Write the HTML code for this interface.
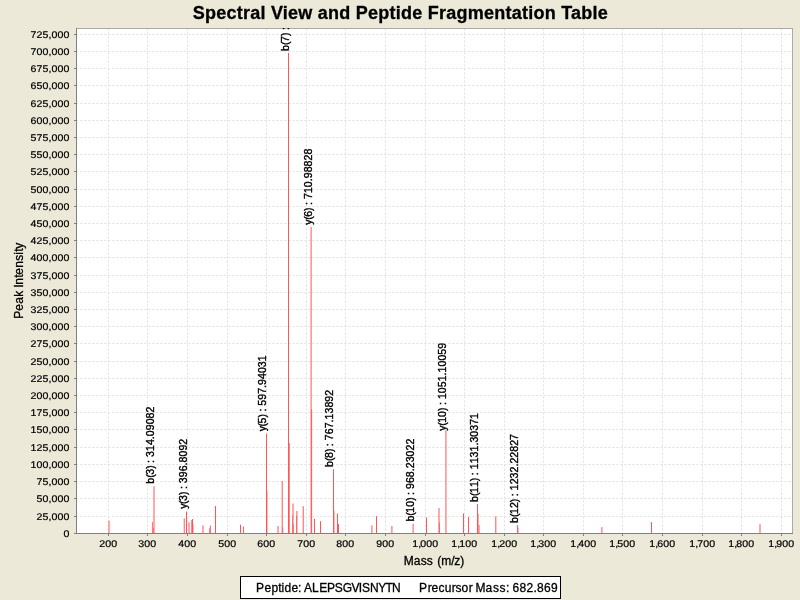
<!DOCTYPE html><html><head><meta charset="utf-8"><title>Spectral View and Peptide Fragmentation Table</title>
<style>html,body{margin:0;padding:0;background:#ECE9D8;overflow:hidden}svg{display:block}text{font-family:"Liberation Sans",sans-serif;fill:#000;stroke:#000}svg{stroke-width:0.3px}</style></head><body>
<svg width="800" height="600" viewBox="0 0 800 600">
<rect width="800" height="600" fill="#ECE9D8"/>
<rect x="76" y="28" width="717" height="506" fill="#fff"/>
<g stroke="#e0e0e0" stroke-width="1" stroke-dasharray="2 2">
<line x1="108.5" y1="28.5" x2="108.5" y2="533"/>
<line x1="147.5" y1="28.5" x2="147.5" y2="533"/>
<line x1="187.5" y1="28.5" x2="187.5" y2="533"/>
<line x1="227.5" y1="28.5" x2="227.5" y2="533"/>
<line x1="266.5" y1="28.5" x2="266.5" y2="533"/>
<line x1="306.5" y1="28.5" x2="306.5" y2="533"/>
<line x1="345.5" y1="28.5" x2="345.5" y2="533"/>
<line x1="385.5" y1="28.5" x2="385.5" y2="533"/>
<line x1="425.5" y1="28.5" x2="425.5" y2="533"/>
<line x1="464.5" y1="28.5" x2="464.5" y2="533"/>
<line x1="504.5" y1="28.5" x2="504.5" y2="533"/>
<line x1="543.5" y1="28.5" x2="543.5" y2="533"/>
<line x1="583.5" y1="28.5" x2="583.5" y2="533"/>
<line x1="622.5" y1="28.5" x2="622.5" y2="533"/>
<line x1="662.5" y1="28.5" x2="662.5" y2="533"/>
<line x1="702.5" y1="28.5" x2="702.5" y2="533"/>
<line x1="741.5" y1="28.5" x2="741.5" y2="533"/>
<line x1="781.5" y1="28.5" x2="781.5" y2="533"/>
<line x1="76.4" y1="516.5" x2="792" y2="516.5"/>
<line x1="76.4" y1="498.5" x2="792" y2="498.5"/>
<line x1="76.4" y1="481.5" x2="792" y2="481.5"/>
<line x1="76.4" y1="464.5" x2="792" y2="464.5"/>
<line x1="76.4" y1="447.5" x2="792" y2="447.5"/>
<line x1="76.4" y1="429.5" x2="792" y2="429.5"/>
<line x1="76.4" y1="412.5" x2="792" y2="412.5"/>
<line x1="76.4" y1="395.5" x2="792" y2="395.5"/>
<line x1="76.4" y1="378.5" x2="792" y2="378.5"/>
<line x1="76.4" y1="361.5" x2="792" y2="361.5"/>
<line x1="76.4" y1="343.5" x2="792" y2="343.5"/>
<line x1="76.4" y1="326.5" x2="792" y2="326.5"/>
<line x1="76.4" y1="309.5" x2="792" y2="309.5"/>
<line x1="76.4" y1="292.5" x2="792" y2="292.5"/>
<line x1="76.4" y1="275.5" x2="792" y2="275.5"/>
<line x1="76.4" y1="257.5" x2="792" y2="257.5"/>
<line x1="76.4" y1="240.5" x2="792" y2="240.5"/>
<line x1="76.4" y1="223.5" x2="792" y2="223.5"/>
<line x1="76.4" y1="206.5" x2="792" y2="206.5"/>
<line x1="76.4" y1="189.5" x2="792" y2="189.5"/>
<line x1="76.4" y1="171.5" x2="792" y2="171.5"/>
<line x1="76.4" y1="154.5" x2="792" y2="154.5"/>
<line x1="76.4" y1="137.5" x2="792" y2="137.5"/>
<line x1="76.4" y1="120.5" x2="792" y2="120.5"/>
<line x1="76.4" y1="103.5" x2="792" y2="103.5"/>
<line x1="76.4" y1="85.5" x2="792" y2="85.5"/>
<line x1="76.4" y1="68.5" x2="792" y2="68.5"/>
<line x1="76.4" y1="51.5" x2="792" y2="51.5"/>
<line x1="76.4" y1="34.5" x2="792" y2="34.5"/>
</g>
<g fill="#FF5555">
<rect x="108.50" y="520.60" width="1.00" height="12.90"/>
<rect x="152.10" y="521.90" width="0.80" height="11.60"/>
<rect x="153.00" y="528.00" width="0.60" height="5.50"/>
<rect x="153.50" y="486.25" width="1.00" height="47.25"/>
<rect x="183.75" y="518.25" width="0.95" height="15.25"/>
<rect x="186.00" y="511.50" width="1.00" height="22.00"/>
<rect x="188.50" y="522.25" width="1.00" height="11.25"/>
<rect x="191.30" y="520.00" width="0.70" height="13.50"/>
<rect x="192.00" y="519.00" width="1.00" height="14.50"/>
<rect x="193.00" y="524.25" width="0.40" height="9.25"/>
<rect x="202.50" y="525.25" width="1.00" height="8.25"/>
<rect x="209.20" y="528.25" width="0.70" height="5.25"/>
<rect x="209.90" y="525.50" width="0.90" height="8.00"/>
<rect x="215.00" y="506.00" width="1.00" height="27.50"/>
<rect x="240.00" y="524.75" width="1.00" height="8.75"/>
<rect x="243.05" y="526.50" width="0.90" height="7.00"/>
<rect x="266.00" y="433.75" width="1.00" height="99.75"/>
<rect x="267.00" y="491.25" width="0.40" height="42.25"/>
<rect x="277.50" y="526.00" width="1.00" height="7.50"/>
<rect x="281.70" y="481.00" width="1.00" height="52.50"/>
<rect x="282.40" y="527.50" width="0.80" height="6.00"/>
<rect x="288.00" y="52.75" width="1.00" height="480.75"/>
<rect x="289.00" y="443.10" width="0.70" height="90.40"/>
<rect x="292.50" y="503.50" width="1.00" height="30.00"/>
<rect x="292.00" y="515.00" width="0.60" height="18.50"/>
<rect x="292.80" y="524.50" width="0.80" height="9.00"/>
<rect x="296.40" y="511.00" width="1.00" height="22.50"/>
<rect x="296.00" y="516.00" width="0.70" height="17.50"/>
<rect x="302.70" y="506.20" width="1.00" height="27.30"/>
<rect x="310.60" y="226.90" width="1.00" height="306.60"/>
<rect x="311.20" y="409.50" width="0.90" height="124.00"/>
<rect x="314.00" y="518.80" width="1.00" height="14.70"/>
<rect x="320.00" y="521.20" width="1.00" height="12.30"/>
<rect x="333.00" y="469.30" width="1.00" height="64.20"/>
<rect x="334.00" y="510.70" width="0.40" height="22.80"/>
<rect x="337.00" y="513.60" width="1.00" height="19.90"/>
<rect x="338.00" y="524.10" width="1.00" height="9.40"/>
<rect x="371.40" y="525.40" width="1.00" height="8.10"/>
<rect x="376.00" y="516.25" width="1.00" height="17.25"/>
<rect x="391.40" y="525.90" width="1.00" height="7.60"/>
<rect x="412.60" y="523.75" width="1.00" height="9.75"/>
<rect x="426.00" y="517.50" width="1.00" height="16.00"/>
<rect x="438.50" y="508.00" width="1.00" height="25.50"/>
<rect x="439.00" y="522.50" width="0.80" height="11.00"/>
<rect x="445.45" y="430.00" width="1.00" height="103.50"/>
<rect x="463.00" y="513.40" width="1.00" height="20.10"/>
<rect x="468.00" y="516.90" width="1.00" height="16.60"/>
<rect x="477.00" y="504.10" width="1.00" height="29.40"/>
<rect x="478.00" y="513.75" width="0.50" height="19.75"/>
<rect x="478.60" y="525.00" width="0.90" height="8.50"/>
<rect x="495.30" y="516.25" width="1.00" height="17.25"/>
<rect x="517.10" y="525.00" width="1.00" height="8.50"/>
<rect x="518.10" y="528.00" width="0.40" height="5.50"/>
<rect x="601.40" y="527.10" width="1.00" height="6.40"/>
<rect x="651.00" y="522.10" width="1.00" height="11.40"/>
<rect x="759.50" y="524.10" width="1.00" height="9.40"/>
</g>
<g shape-rendering="crispEdges">
<rect x="76" y="28" width="717" height="1" fill="#aaaaaa"/>
<rect x="792" y="28" width="1" height="506" fill="#aaaaaa"/>
<rect x="76" y="28" width="1" height="506" fill="#808080"/>
<rect x="76" y="533" width="717" height="1" fill="#808080"/>
<rect x="108" y="534" width="1" height="2" fill="#808080"/>
<rect x="147" y="534" width="1" height="2" fill="#808080"/>
<rect x="187" y="534" width="1" height="2" fill="#808080"/>
<rect x="227" y="534" width="1" height="2" fill="#808080"/>
<rect x="266" y="534" width="1" height="2" fill="#808080"/>
<rect x="306" y="534" width="1" height="2" fill="#808080"/>
<rect x="345" y="534" width="1" height="2" fill="#808080"/>
<rect x="385" y="534" width="1" height="2" fill="#808080"/>
<rect x="425" y="534" width="1" height="2" fill="#808080"/>
<rect x="464" y="534" width="1" height="2" fill="#808080"/>
<rect x="504" y="534" width="1" height="2" fill="#808080"/>
<rect x="543" y="534" width="1" height="2" fill="#808080"/>
<rect x="583" y="534" width="1" height="2" fill="#808080"/>
<rect x="622" y="534" width="1" height="2" fill="#808080"/>
<rect x="662" y="534" width="1" height="2" fill="#808080"/>
<rect x="702" y="534" width="1" height="2" fill="#808080"/>
<rect x="741" y="534" width="1" height="2" fill="#808080"/>
<rect x="781" y="534" width="1" height="2" fill="#808080"/>
<rect x="74" y="533" width="2" height="1" fill="#808080"/>
<rect x="74" y="516" width="2" height="1" fill="#808080"/>
<rect x="74" y="498" width="2" height="1" fill="#808080"/>
<rect x="74" y="481" width="2" height="1" fill="#808080"/>
<rect x="74" y="464" width="2" height="1" fill="#808080"/>
<rect x="74" y="447" width="2" height="1" fill="#808080"/>
<rect x="74" y="429" width="2" height="1" fill="#808080"/>
<rect x="74" y="412" width="2" height="1" fill="#808080"/>
<rect x="74" y="395" width="2" height="1" fill="#808080"/>
<rect x="74" y="378" width="2" height="1" fill="#808080"/>
<rect x="74" y="361" width="2" height="1" fill="#808080"/>
<rect x="74" y="343" width="2" height="1" fill="#808080"/>
<rect x="74" y="326" width="2" height="1" fill="#808080"/>
<rect x="74" y="309" width="2" height="1" fill="#808080"/>
<rect x="74" y="292" width="2" height="1" fill="#808080"/>
<rect x="74" y="275" width="2" height="1" fill="#808080"/>
<rect x="74" y="257" width="2" height="1" fill="#808080"/>
<rect x="74" y="240" width="2" height="1" fill="#808080"/>
<rect x="74" y="223" width="2" height="1" fill="#808080"/>
<rect x="74" y="206" width="2" height="1" fill="#808080"/>
<rect x="74" y="189" width="2" height="1" fill="#808080"/>
<rect x="74" y="171" width="2" height="1" fill="#808080"/>
<rect x="74" y="154" width="2" height="1" fill="#808080"/>
<rect x="74" y="137" width="2" height="1" fill="#808080"/>
<rect x="74" y="120" width="2" height="1" fill="#808080"/>
<rect x="74" y="103" width="2" height="1" fill="#808080"/>
<rect x="74" y="85" width="2" height="1" fill="#808080"/>
<rect x="74" y="68" width="2" height="1" fill="#808080"/>
<rect x="74" y="51" width="2" height="1" fill="#808080"/>
<rect x="74" y="34" width="2" height="1" fill="#808080"/>
</g>
<g stroke-width="0.22" font-size="10">
<text transform="translate(63.40,537.00) rotate(0.05) scale(1.06,0.97)" x="0">0</text>
<text transform="translate(36.40,520.00) rotate(0.05) scale(1.06,0.97)" x="0 5.66 11.32 14.15 19.81 25.47">25,000</text>
<text transform="translate(36.40,502.00) rotate(0.05) scale(1.06,0.97)" x="0 5.66 11.32 14.15 19.81 25.47">50,000</text>
<text transform="translate(36.40,485.00) rotate(0.05) scale(1.06,0.97)" x="0 5.66 11.32 14.15 19.81 25.47">75,000</text>
<text transform="translate(30.40,468.00) rotate(0.05) scale(1.06,0.97)" x="0 5.66 11.32 16.98 19.81 25.47 31.13">100,000</text>
<text transform="translate(30.40,451.00) rotate(0.05) scale(1.06,0.97)" x="0 5.66 11.32 16.98 19.81 25.47 31.13">125,000</text>
<text transform="translate(30.40,433.00) rotate(0.05) scale(1.06,0.97)" x="0 5.66 11.32 16.98 19.81 25.47 31.13">150,000</text>
<text transform="translate(30.40,416.00) rotate(0.05) scale(1.06,0.97)" x="0 5.66 11.32 16.98 19.81 25.47 31.13">175,000</text>
<text transform="translate(30.40,399.00) rotate(0.05) scale(1.06,0.97)" x="0 5.66 11.32 16.98 19.81 25.47 31.13">200,000</text>
<text transform="translate(30.40,382.00) rotate(0.05) scale(1.06,0.97)" x="0 5.66 11.32 16.98 19.81 25.47 31.13">225,000</text>
<text transform="translate(30.40,365.00) rotate(0.05) scale(1.06,0.97)" x="0 5.66 11.32 16.98 19.81 25.47 31.13">250,000</text>
<text transform="translate(30.40,347.00) rotate(0.05) scale(1.06,0.97)" x="0 5.66 11.32 16.98 19.81 25.47 31.13">275,000</text>
<text transform="translate(30.40,330.00) rotate(0.05) scale(1.06,0.97)" x="0 5.66 11.32 16.98 19.81 25.47 31.13">300,000</text>
<text transform="translate(30.40,313.00) rotate(0.05) scale(1.06,0.97)" x="0 5.66 11.32 16.98 19.81 25.47 31.13">325,000</text>
<text transform="translate(30.40,296.00) rotate(0.05) scale(1.06,0.97)" x="0 5.66 11.32 16.98 19.81 25.47 31.13">350,000</text>
<text transform="translate(30.40,279.00) rotate(0.05) scale(1.06,0.97)" x="0 5.66 11.32 16.98 19.81 25.47 31.13">375,000</text>
<text transform="translate(30.40,261.00) rotate(0.05) scale(1.06,0.97)" x="0 5.66 11.32 16.98 19.81 25.47 31.13">400,000</text>
<text transform="translate(30.40,244.00) rotate(0.05) scale(1.06,0.97)" x="0 5.66 11.32 16.98 19.81 25.47 31.13">425,000</text>
<text transform="translate(30.40,227.00) rotate(0.05) scale(1.06,0.97)" x="0 5.66 11.32 16.98 19.81 25.47 31.13">450,000</text>
<text transform="translate(30.40,210.00) rotate(0.05) scale(1.06,0.97)" x="0 5.66 11.32 16.98 19.81 25.47 31.13">475,000</text>
<text transform="translate(30.40,193.00) rotate(0.05) scale(1.06,0.97)" x="0 5.66 11.32 16.98 19.81 25.47 31.13">500,000</text>
<text transform="translate(30.40,175.00) rotate(0.05) scale(1.06,0.97)" x="0 5.66 11.32 16.98 19.81 25.47 31.13">525,000</text>
<text transform="translate(30.40,158.00) rotate(0.05) scale(1.06,0.97)" x="0 5.66 11.32 16.98 19.81 25.47 31.13">550,000</text>
<text transform="translate(30.40,141.00) rotate(0.05) scale(1.06,0.97)" x="0 5.66 11.32 16.98 19.81 25.47 31.13">575,000</text>
<text transform="translate(30.40,124.00) rotate(0.05) scale(1.06,0.97)" x="0 5.66 11.32 16.98 19.81 25.47 31.13">600,000</text>
<text transform="translate(30.40,107.00) rotate(0.05) scale(1.06,0.97)" x="0 5.66 11.32 16.98 19.81 25.47 31.13">625,000</text>
<text transform="translate(30.40,89.00) rotate(0.05) scale(1.06,0.97)" x="0 5.66 11.32 16.98 19.81 25.47 31.13">650,000</text>
<text transform="translate(30.40,72.00) rotate(0.05) scale(1.06,0.97)" x="0 5.66 11.32 16.98 19.81 25.47 31.13">675,000</text>
<text transform="translate(30.40,55.00) rotate(0.05) scale(1.06,0.97)" x="0 5.66 11.32 16.98 19.81 25.47 31.13">700,000</text>
<text transform="translate(30.40,38.00) rotate(0.05) scale(1.06,0.97)" x="0 5.66 11.32 16.98 19.81 25.47 31.13">725,000</text>
<text transform="translate(99.30,547.1) rotate(0.05) scale(1.06,0.97)" x="0 5.66 11.32">200</text>
<text transform="translate(138.30,547.1) rotate(0.05) scale(1.06,0.97)" x="0 5.66 11.32">300</text>
<text transform="translate(178.30,547.1) rotate(0.05) scale(1.06,0.97)" x="0 5.66 11.32">400</text>
<text transform="translate(218.30,547.1) rotate(0.05) scale(1.06,0.97)" x="0 5.66 11.32">500</text>
<text transform="translate(257.30,547.1) rotate(0.05) scale(1.06,0.97)" x="0 5.66 11.32">600</text>
<text transform="translate(297.30,547.1) rotate(0.05) scale(1.06,0.97)" x="0 5.66 11.32">700</text>
<text transform="translate(336.30,547.1) rotate(0.05) scale(1.06,0.97)" x="0 5.66 11.32">800</text>
<text transform="translate(376.30,547.1) rotate(0.05) scale(1.06,0.97)" x="0 5.66 11.32">900</text>
<text transform="translate(412.30,547.1) rotate(0.05) scale(1.06,0.97)" x="0 5.66 7.55 13.21 18.87">1,000</text>
<text transform="translate(451.30,547.1) rotate(0.05) scale(1.06,0.97)" x="0 5.66 7.55 13.21 18.87">1,100</text>
<text transform="translate(491.30,547.1) rotate(0.05) scale(1.06,0.97)" x="0 5.66 7.55 13.21 18.87">1,200</text>
<text transform="translate(530.30,547.1) rotate(0.05) scale(1.06,0.97)" x="0 5.66 7.55 13.21 18.87">1,300</text>
<text transform="translate(570.30,547.1) rotate(0.05) scale(1.06,0.97)" x="0 5.66 7.55 13.21 18.87">1,400</text>
<text transform="translate(609.30,547.1) rotate(0.05) scale(1.06,0.97)" x="0 5.66 7.55 13.21 18.87">1,500</text>
<text transform="translate(649.30,547.1) rotate(0.05) scale(1.06,0.97)" x="0 5.66 7.55 13.21 18.87">1,600</text>
<text transform="translate(689.30,547.1) rotate(0.05) scale(1.06,0.97)" x="0 5.66 7.55 13.21 18.87">1,700</text>
<text transform="translate(728.30,547.1) rotate(0.05) scale(1.06,0.97)" x="0 5.66 7.55 13.21 18.87">1,800</text>
<text transform="translate(768.30,547.1) rotate(0.05) scale(1.06,0.97)" x="0 5.66 7.55 13.21 18.87">1,900</text>
</g>
<clipPath id="pc"><rect x="77" y="28" width="715" height="505"/></clipPath>
<g stroke-width="0.36" font-size="10" clip-path="url(#pc)">
<text transform="translate(154.20,483.65) rotate(-90) scale(1.05,1.04)" x="0 5.65 8.47 14.11 16.94 19.76 22.58 25.41 31.05 36.7 42.34 45.17 50.81 56.46 62.1 67.75">b(3) : 314.09082</text>
<text transform="translate(186.60,508.85) rotate(-90) scale(1.05,1.04)" x="0 4.7 7.53 13.17 16 18.82 21.64 24.46 30.11 35.76 41.4 44.22 49.87 55.52 61.16">y(3) : 396.8092</text>
<text transform="translate(266.35,431.35) rotate(-90) scale(1.05,1.04)" x="0 4.7 7.53 13.17 16 18.82 21.64 24.46 30.11 35.76 41.4 44.22 49.87 55.52 61.16 66.81">y(5) : 597.94031</text>
<text transform="translate(311.70,224.70) rotate(-90) scale(1.05,1.04)" x="0 4.7 7.53 13.17 16 18.82 21.64 24.46 30.11 35.76 41.4 44.22 49.87 55.52 61.16 66.81">y(6) : 710.98828</text>
<text transform="translate(333.40,466.90) rotate(-90) scale(1.05,1.04)" x="0 5.65 8.47 14.11 16.94 19.76 22.58 25.41 31.05 36.7 42.34 45.17 50.81 56.46 62.1 67.75">b(8) : 767.13892</text>
<text transform="translate(413.70,521.60) rotate(-90) scale(1.05,1.04)" x="0 5.65 8.47 14.11 19.76 22.58 25.41 28.23 31.05 36.7 42.34 47.99 50.81 56.46 62.1 67.75 73.39">b(10) : 968.23022</text>
<text transform="translate(446.35,430.70) rotate(-90) scale(1.05,1.04)" x="0 4.7 7.53 13.17 18.82 21.64 24.46 27.29 30.11 35.76 41.4 47.05 52.69 55.52 61.16 66.81 72.45 78.1">y(10) : 1051.10059</text>
<text transform="translate(478.10,501.90) rotate(-90) scale(1.05,1.04)" x="0 5.65 8.47 14.11 19.76 22.58 25.41 28.23 31.05 36.7 42.34 47.99 53.63 56.46 62.1 67.75 73.39 79.04">b(11) : 1131.30371</text>
<text transform="translate(517.85,522.90) rotate(-90) scale(1.05,1.04)" x="0 5.65 8.47 14.11 19.76 22.58 25.41 28.23 31.05 36.7 42.34 47.99 53.63 56.46 62.1 67.75 73.39 79.04">b(12) : 1232.22827</text>
<text transform="translate(288.9,50.9) rotate(-90) scale(1.05,1.04)" x="0 5.71 8.57 14.29 17.14 20">b(7) :</text>
</g>
<text x="400.4" y="19" font-size="18" font-weight="bold" text-anchor="middle" letter-spacing="0.242">Spectral View and Peptide Fragmentation Table</text>
<text y="565" font-size="12" x="403.85 413.85 420.85 426.85 432.85 437.35 441.35 451.35 454.35 460.35">Mass (m/z)</text>
<text transform="translate(22.5,318.8) rotate(-90)" font-size="12" x="0 8 15 22 28 31 34 41 44 51 58 64 67 70">Peak Intensity</text>
<rect x="240.5" y="576.5" width="320" height="22" fill="#fff" stroke="#000" stroke-width="1" shape-rendering="crispEdges"/>
<text x="255.9 264.5 271.4 278.3 281.6 284.6 291.5 298 301 304.1 312 319.3 326.9 334.8 342.7 351.6 358.8 361.9 370 378.3 385.5 392.1" y="591.8" font-size="12">Peptide: ALEPSGVISNYTN</text>
<text x="418.9 427.7 431.5 438.5 444.7 451.7 455.6 461.6 468.7 472.7 475.6 485.6 493.1 499.6 505.9 509 512.5 519.5 526.5 533.5 537 544 551" y="591.8" font-size="12">Precursor Mass: 682.869</text>
</svg></body></html>
